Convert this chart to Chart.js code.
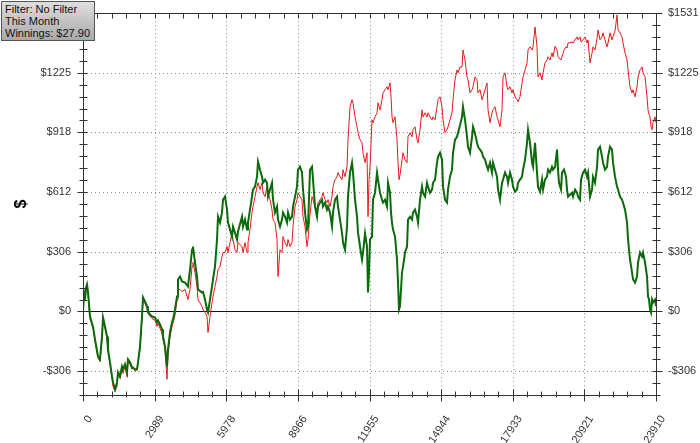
<!DOCTYPE html>
<html>
<head>
<meta charset="utf-8">
<script src="https://cdn.jsdelivr.net/npm/chart.js@4"></script>
<style>
  body { margin: 0; background: #fff; }
  #wrap { position: relative; width: 700px; height: 443px; }
  #info {
    position: absolute; left: 1px; top: 1px; width: 86px; height: 36px;
    padding: 1px 3px; border: 1px solid #555;
    background: linear-gradient(to bottom, #dedede, #a9a9a9);
    font: 11px "Liberation Sans", Arial, sans-serif; line-height: 12px; color: #111;
    white-space: nowrap;
  }
</style>
</head>
<body>
<div id="wrap">
  <canvas id="chart" width="700" height="443"></canvas>
  <div id="info">Filter: No Filter<br>This Month<br>Winnings: $27.90</div>
</div>
<script>
// trade number (x) shared by both equity curves
const trades = [
  0,42,83,125,167,209,292,417,501,626,
  709,793,835,918,1002,1043,1127,1210,1252,1335,
  1419,1461,1544,1627,1669,1753,1836,1878,1961,2045,
  2087,2170,2253,2295,2379,2462,2504,2587,2671,2712,
  2796,2879,3005,3088,3130,3213,3297,3338,3422,3505,
  3547,3631,3714,3756,3839,3923,3964,4048,4131,4256,
  4382,4465,4549,4590,4674,4757,4799,4966,5008,5091,
  5175,5216,5300,5383,5425,5508,5592,5634,5717,5800,
  5842,5926,6009,6051,6134,6218,6260,6343,6426,6468,
  6635,6677,6760,6844,6885,6969,7052,7094,7178,7261,
  7303,7386,7470,7511,7595,7678,7720,7804,7887,7929,
  8012,8096,8137,8221,8304,8346,8429,8513,8555,8638,
  8722,8763,8847,8930,8972,9055,9139,9181,9264,9348,
  9389,9473,9556,9598,9681,9765,9807,9890,9973,10015,
  10099,10182,10224,10307,10391,10433,10516,10599,10641,10725,
  10808,10850,10933,11017,11058,11142,11225,11267,11351,11434,
  11476,11559,11643,11684,11768,11851,11893,11935,11977,12060,
  12102,12185,12269,12310,12394,12477,12519,12602,12686,12728,
  12811,12853,12894,12936,13020,13103,13145,13187,13228,13312,
  13354,13437,13521,13562,13646,13729,13771,13854,13938,13980,
  14063,14146,14188,14272,14355,14397,14480,14564,14606,14689,
  14772,14814,14898,14981,15023,15106,15190,15231,15315,15398,
  15440,15524,15607,15649,15732,15816,15857,15941,16024,16066,
  16150,16233,16275,16358,16442,16483,16567,16650,16692,16775,
  16859,16901,16984,17068,17109,17193,17276,17318,17401,17485,
  17527,17610,17694,17735,17819,17902,17944,18027,18111,18153,
  18236,18319,18361,18445,18528,18570,18653,18737,18779,18862,
  18945,18987,19071,19154,19196,19279,19363,19404,19488,19571,
  19613,19697,19780,19822,19863,19947,19989,20072,20155,20197,
  20239,20406,20448,20531,20615,20656,20740,20782,20865,20948,
  21032,21074,21157,21241,21282,21366,21449,21491,21574,21658,
  21700,21783,21867,21908,21992,22075,22117,22200,22284,22326,
  22409,22492,22534,22618,22701,22743,22826,22910,22952,23035,
  23118,23160,23244,23327,23369,23452,23536,23577,23619,23661,
  23702,23744,23786,23870,23910
];

// green curve (filtered)
const greenPnl = [
  0,90,60,120,138,100,-26,-77,-143,-230,
  -246,-128,-31,-77,-128,-195,-261,-333,-364,-400,
  -364,-312,-333,-282,-297,-271,-312,-246,-261,-287,
  -287,-297,-297,-261,-179,-26,72,51,26,0,
  -15,-26,-31,-56,-46,-67,-92,-128,-179,-282,
  -195,-108,-56,-41,10,77,164,179,154,148,
  128,215,317,333,251,179,113,97,100,61,
  10,-5,61,128,164,230,369,486,456,507,
  573,589,522,456,420,384,435,404,369,410,
  486,435,471,420,456,522,589,625,640,691,
  768,727,691,660,676,660,589,625,660,573,
  507,538,471,435,471,507,486,456,507,471,
  486,538,589,640,727,742,712,625,507,420,
  435,727,742,676,538,486,538,558,573,538,
  558,522,538,507,435,507,573,589,538,471,
  404,353,317,435,589,712,763,712,573,486,
  404,333,266,302,400,333,97,200,369,384,
  573,609,712,676,609,573,558,573,538,660,
  609,507,456,420,384,266,148,10,26,200,
  230,302,333,471,486,471,507,522,486,456,
  573,640,609,589,660,640,609,625,660,676,
  763,794,814,778,640,573,558,625,691,727,
  814,881,896,917,955,998,1050,983,896,845,
  814,896,947,912,865,845,830,814,794,778,
  742,727,763,712,763,727,691,625,573,660,
  676,712,691,660,712,676,640,614,625,660,
  676,691,727,778,865,932,865,763,742,865,
  712,640,614,676,625,676,691,727,712,742,
  727,740,830,727,660,625,712,727,691,625,
  589,609,589,625,609,589,573,676,712,727,
  691,712,589,625,691,660,742,830,845,794,
  763,727,742,794,845,830,763,691,640,625,
  589,573,558,522,456,369,266,200,164,148,
  179,251,302,282,302,251,179,77,61,10,
  -5,61,46,61,28
];

// red curve (all trades)
const redPnl = [
  0,90,60,110,130,90,-36,-87,-153,-240,
  -256,-138,-41,-87,-138,-205,-271,-343,-384,-410,
  -384,-322,-343,-292,-318,-281,-335,-256,-271,-297,
  -287,-307,-300,-271,-189,-36,62,41,16,-10,
  -25,-36,-46,-77,-61,-87,-110,-143,-195,-348,
  -220,-130,-77,-61,-20,60,113,113,102,113,
  61,113,230,251,200,128,61,26,10,-5,
  -26,-108,-26,46,77,128,179,215,230,282,
  302,302,333,302,353,404,369,317,302,353,
  333,302,353,302,353,420,507,538,589,640,
  660,625,660,609,589,640,609,573,522,471,
  456,369,179,317,302,384,353,333,369,333,
  353,435,538,573,609,589,573,486,435,333,
  369,500,589,573,538,522,558,573,589,609,
  573,558,573,538,589,640,676,691,712,691,
  676,727,691,742,881,1050,1086,1070,998,947,
  917,881,865,814,763,814,486,676,742,983,
  968,998,1019,1070,1034,1086,1121,1137,1152,1137,
  1172,1101,998,968,998,881,763,676,700,778,
  814,778,763,896,917,896,932,947,881,865,
  932,1034,998,1019,998,1019,998,983,998,983,
  1050,1086,1101,1050,983,917,932,947,983,1019,
  1086,1188,1239,1224,1254,1254,1341,1290,1203,1188,
  1121,1137,1152,1203,1188,1121,1137,1086,1101,1137,
  1172,1034,968,1019,1034,1050,998,983,947,1034,
  1203,1224,1152,1137,1152,1121,1137,1101,1086,1075,
  1101,1172,1203,1239,1275,1341,1357,1341,1357,1459,
  1357,1203,1224,1188,1224,1275,1290,1306,1290,1326,
  1306,1360,1341,1306,1300,1290,1306,1341,1357,1351,
  1377,1382,1377,1393,1408,1393,1408,1382,1393,1408,
  1377,1393,1275,1326,1357,1341,1400,1444,1393,1408,
  1429,1393,1357,1377,1429,1393,1410,1440,1521,1444,
  1429,1408,1377,1326,1290,1239,1152,1121,1137,1101,
  1152,1203,1239,1254,1224,1203,1101,1034,1010,998,
  950,932,968,998,968
];

const xTickValues = [0, 2988.75, 5977.5, 8966.25, 11955, 14943.75, 17932.5, 20921.25, 23910];
const xTickLabels = ['0', '2989', '5978', '8966', '11955', '14944', '17933', '20921', '23910'];
const yTickValues = [-306.15, 0, 306.15, 612.3, 918.45, 1224.6, 1530.75];
const yTickLabels = ['-$306', '$0', '$306', '$612', '$918', '$1225', '$1531'];
const yMin = -428.61;
const yMax = 1530.75;

const tickFont = { family: '"Liberation Sans", Arial, sans-serif', size: 11 };
const tickColor = '#333';

// dotted grid, zero line, frame and minor ticks
const axisFrame = {
  id: 'axisFrame',
  beforeDatasetsDraw(chart) {
    const { ctx, chartArea: a, scales: { x, y } } = chart;
    ctx.save();
    ctx.lineWidth = 1;
    ctx.strokeStyle = '#8c8c8c';
    ctx.setLineDash([1, 3]);
    ctx.beginPath();
    xTickValues.forEach(v => {
      const p = Math.round(x.getPixelForValue(v)) + 0.5;
      ctx.moveTo(p, a.top); ctx.lineTo(p, a.bottom);
    });
    yTickValues.forEach(v => {
      const p = Math.round(y.getPixelForValue(v)) + 0.5;
      ctx.moveTo(a.left, p); ctx.lineTo(a.right, p);
    });
    ctx.stroke();
    ctx.setLineDash([]);
    ctx.strokeStyle = '#111';
    const z = Math.round(y.getPixelForValue(0)) + 0.5;
    ctx.beginPath(); ctx.moveTo(a.left, z); ctx.lineTo(a.right, z); ctx.stroke();
    ctx.restore();
  },
  afterDatasetsDraw(chart) {
    const { ctx, chartArea: a, scales: { x, y } } = chart;
    const L = Math.round(a.left) + 0.5, R = Math.round(a.right) + 0.5;
    const T = Math.round(a.top) + 0.5, B = Math.round(a.bottom) + 0.5;
    ctx.save();
    ctx.strokeStyle = '#333';
    ctx.lineWidth = 1;
    ctx.beginPath();
    ctx.moveTo(L, T); ctx.lineTo(R, T); ctx.lineTo(R, B); ctx.lineTo(L, B); ctx.closePath();
    const ySub = (yTickValues[2] - yTickValues[1]) / 5;
    for (let k = -10; k <= 30; k++) {
      const v = k * ySub;
      if (v < yMin - 1e-6 || v > yMax + 1e-6) continue;
      const p = Math.round(y.getPixelForValue(v)) + 0.5;
      const major = k % 5 === 0;
      ctx.moveTo(L - (major ? 6 : 4), p); ctx.lineTo(L + 4, p);
      ctx.moveTo(R - 4, p); ctx.lineTo(R + (major ? 6 : 4), p);
    }
    const xSub = (xTickValues[1] - xTickValues[0]) / 5;
    for (let k = 0; k <= 40; k++) {
      const p = Math.round(x.getPixelForValue(k * xSub)) + 0.5;
      const major = k % 5 === 0;
      ctx.moveTo(p, B - (major ? 6 : 4)); ctx.lineTo(p, B + (major ? 6 : 2));
      ctx.moveTo(p, T); ctx.lineTo(p, T + 5);
    }
    ctx.stroke();
    ctx.restore();
  }
};

const setTicks = values => scale => { scale.ticks = values.map(v => ({ value: v })); };
const noPad = s => { s.paddingTop = 0; s.paddingBottom = 0; s.paddingLeft = 0; s.paddingRight = 0; };

new Chart(document.getElementById('chart'), {
  type: 'line',
  data: {
    datasets: [
      {
        label: 'Filtered',
        data: trades.map((t, i) => ({ x: t, y: greenPnl[i] })),
        borderColor: '#0c6a0c',
        borderWidth: 2,
        pointRadius: 0,
        tension: 0
      },
      {
        label: 'All',
        data: trades.map((t, i) => ({ x: t, y: redPnl[i] })),
        borderColor: '#e81818',
        borderWidth: 1,
        pointRadius: 0,
        tension: 0
      }
    ]
  },
  options: {
    responsive: false,
    animation: false,
    events: [],
    layout: { padding: { top: 13, left: 0, right: 0, bottom: 0 } },
    plugins: { legend: { display: false }, tooltip: { enabled: false } },
    scales: {
      x: {
        type: 'linear',
        min: 0,
        max: 23910,
        afterBuildTicks: setTicks(xTickValues),
        afterFit: s => { s.height = 48; noPad(s); },
        grid: { display: false, drawTicks: false },
        border: { display: false },
        ticks: {
          autoSkip: false, minRotation: 57, maxRotation: 57, padding: 18, labelOffset: 7,
          color: tickColor, font: tickFont,
          callback: (v, i) => xTickLabels[i]
        }
      },
      y: {
        position: 'left',
        min: yMin,
        max: yMax,
        afterBuildTicks: setTicks(yTickValues),
        afterFit: s => { s.width = 83; noPad(s); },
        grid: { display: false, drawTicks: false },
        border: { display: false },
        title: {
          display: true, text: '$', color: '#000',
          font: { family: '"Liberation Sans", Arial, sans-serif', size: 16, weight: 'bold' },
          padding: { top: 12, bottom: 0 }
        },
        ticks: {
          padding: 12, color: tickColor, font: tickFont,
          callback: (v, i) => yTickLabels[i]
        }
      },
      y2: {
        position: 'right',
        min: yMin,
        max: yMax,
        afterBuildTicks: setTicks(yTickValues),
        afterFit: s => { s.width = 44; noPad(s); },
        grid: { display: false, drawTicks: false },
        border: { display: false },
        ticks: {
          padding: 12, color: tickColor, font: tickFont,
          callback: (v, i) => yTickLabels[i]
        }
      }
    }
  },
  plugins: [axisFrame]
});
</script>
</body>
</html>
